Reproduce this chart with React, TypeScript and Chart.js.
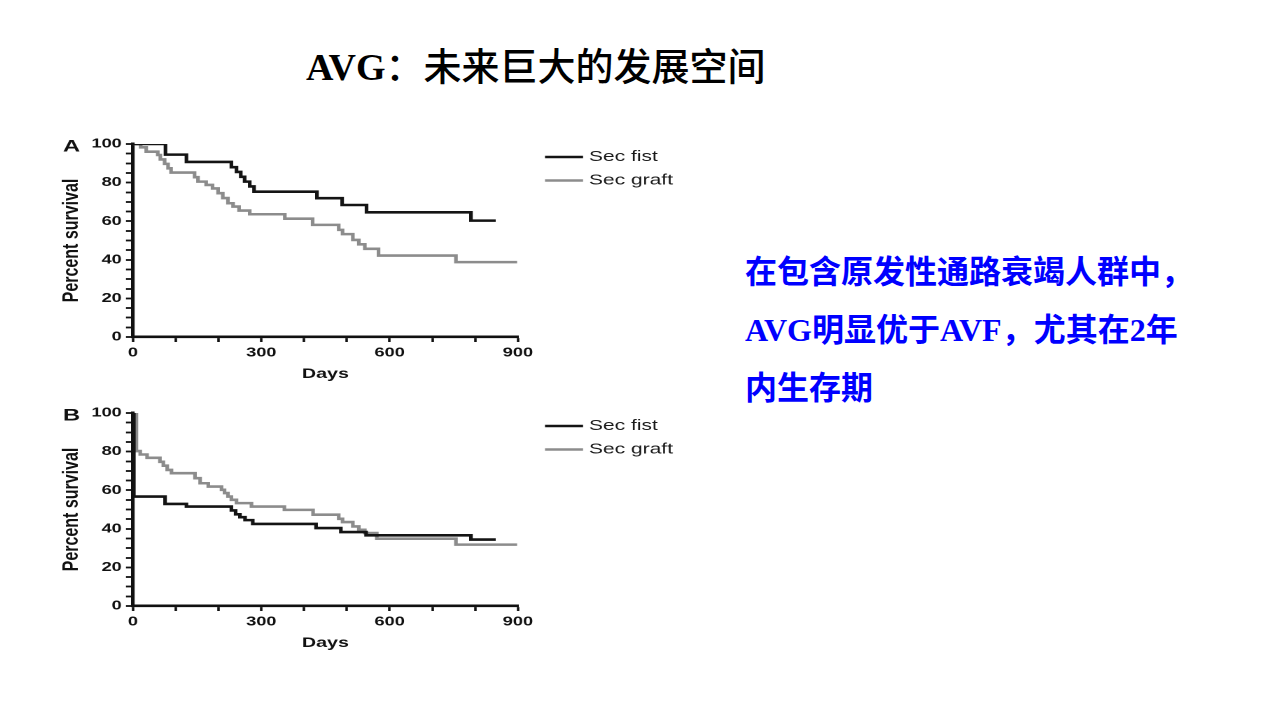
import React, { useEffect, useRef } from "react";
import { Chart, registerables } from "chart.js";

Chart.register(...registerables);

// ---------- data ----------
const seriesNames = ["Sec fist", "Sec graft"];
const xTickLabels = [0, 300, 600, 900];
const yTickLabels = [0, 20, 40, 60, 80, 100];

const aFistDays = [0, 76, 125, 230, 242, 252, 261, 273, 283, 430, 489, 546, 790, 848];
const aFistPct = [100, 94.5, 90.7, 88, 85.5, 83, 80.5, 78, 75.3, 71.9, 68.4, 64.6, 60.3, 60.3];

const aGraftDays = [0, 18, 31, 58, 64, 74, 82, 89, 144, 152, 171, 186, 199, 210, 222, 234, 248, 273, 355, 420, 481, 490, 514, 528, 542, 574, 755, 898];
const aGraftPct = [100, 98.3, 96, 94.3, 92, 89.7, 87.4, 85.2, 82.8, 80.5, 78.8, 77, 74.5, 72, 69.3, 67.6, 65.5, 63.6, 61.3, 58.1, 55.5, 53.3, 50.3, 48, 45.7, 42.2, 38.8, 38.8];

const bFistDays = [0, 2, 75, 125, 230, 240, 250, 262, 280, 428, 486, 545, 790, 848];
const bFistPct = [100, 56.7, 52.9, 51.5, 49.5, 47.5, 46, 44.5, 42.5, 40.4, 38.3, 36.6, 34.4, 34.4];

const bGraftDays = [0, 8, 17, 33, 63, 71, 80, 90, 145, 157, 176, 207, 214, 222, 230, 242, 277, 354, 421, 481, 490, 514, 528, 542, 570, 755, 898];
const bGraftPct = [100, 80.3, 78.5, 76.8, 74.7, 72.7, 70.5, 68.8, 66.2, 63.6, 61.9, 60.2, 58.5, 56.7, 55, 53.3, 51.5, 49.8, 47.3, 45.2, 43.5, 41.2, 39.5, 37.8, 34.9, 31.8, 31.8];

// ---------- style ----------
const SANS = "'Liberation Sans', Arial, Helvetica, sans-serif";
const FIST_COLOR = "#141414";
const GRAFT_COLOR = "#8c8c8c";
const AXIS_COLOR = "#111111";
const LOGICAL_W = 480;
const CSS_W = 672;
const CANVAS_H = 270;
const LINE_W = 2.6;

type PanelProps = {
  label: string;
  fistDays: number[];
  fistPct: number[];
  graftDays: number[];
  graftPct: number[];
  top: number;
};

function KMPanel({ label, fistDays, fistPct, graftDays, graftPct, top }: PanelProps) {
  const ref = useRef<HTMLCanvasElement>(null);

  useEffect(() => {
    const canvas = ref.current;
    if (!canvas) return;

    const decor = {
      id: "panelDecor",
      afterDraw(chart: any) {
        const { ctx, chartArea } = chart;
        ctx.save();
        ctx.fillStyle = AXIS_COLOR;
        ctx.textAlign = "left";
        ctx.textBaseline = "middle";
        ctx.font = `bold 17px ${SANS}`;
        ctx.fillText(label, 16.4, chartArea.top + 3);
        ctx.font = `15px ${SANS}`;
        chart.data.datasets.forEach((ds: any, i: number) => {
          const y = chartArea.top + 13 + i * 23.5;
          ctx.strokeStyle = ds.borderColor;
          ctx.lineWidth = 2.4;
          ctx.beginPath();
          ctx.moveTo(chartArea.right + 19.3, y);
          ctx.lineTo(chartArea.right + 46.5, y);
          ctx.stroke();
          ctx.fillStyle = "#1a1a1a";
          ctx.fillText(ds.label, chartArea.right + 50.7, y);
        });
        ctx.restore();
      },
    };

    const axisCommon = {
      border: { display: true, color: AXIS_COLOR, width: 2.6 },
      grid: {
        display: true,
        drawOnChartArea: false,
        drawTicks: true,
        tickLength: 5,
        tickWidth: 1.8,
        tickColor: AXIS_COLOR,
      },
    };

    const chart = new Chart(canvas, {
      type: "line",
      data: {
        datasets: [
          {
            label: seriesNames[0],
            data: fistDays.map((d, i) => ({ x: d, y: fistPct[i] })),
            borderColor: FIST_COLOR,
            backgroundColor: FIST_COLOR,
            borderWidth: LINE_W,
            stepped: true,
            pointRadius: 0,
            fill: false,
          },
          {
            label: seriesNames[1],
            data: graftDays.map((d, i) => ({ x: d, y: graftPct[i] })),
            borderColor: GRAFT_COLOR,
            backgroundColor: GRAFT_COLOR,
            borderWidth: LINE_W,
            stepped: true,
            pointRadius: 0,
            fill: false,
          },
        ],
      },
      options: {
        responsive: false,
        animation: false,
        devicePixelRatio: 2,
        layout: { padding: { left: 13, top: 19, right: 138.6, bottom: 12.6 } },
        plugins: {
          legend: { display: false },
          tooltip: { enabled: false },
          title: { display: false },
        },
        scales: {
          x: {
            type: "linear",
            min: 0,
            max: 900,
            ...axisCommon,
            ticks: {
              stepSize: 100,
              autoSkip: false,
              maxRotation: 0,
              padding: 3,
              color: AXIS_COLOR,
              font: { family: SANS, size: 13, weight: "bold" },
              callback: (v: any) => (xTickLabels.includes(Number(v)) ? String(v) : ""),
            },
            title: {
              display: true,
              text: "Days",
              color: AXIS_COLOR,
              padding: 0,
              font: { family: SANS, size: 14, weight: "bold" },
            },
            afterFit: (s: any) => {
              s.height = 45.4;
            },
          },
          y: {
            type: "linear",
            min: 0,
            max: 100,
            ...axisCommon,
            ticks: {
              stepSize: 5,
              autoSkip: false,
              padding: 3,
              color: AXIS_COLOR,
              font: { family: SANS, size: 13, weight: "bold" },
              callback: (v: any) => (yTickLabels.includes(Number(v)) ? String(v) : ""),
            },
            title: {
              display: true,
              text: "Percent survival",
              color: AXIS_COLOR,
              padding: 0,
              font: { family: SANS, size: 16, weight: "bold" },
            },
            afterFit: (s: any) => {
              s.width = 53.4;
            },
          },
        },
      } as any,
      plugins: [decor],
    });

    return () => chart.destroy();
  }, [label, fistDays, fistPct, graftDays, graftPct]);

  return (
    <canvas
      ref={ref}
      width={LOGICAL_W}
      height={CANVAS_H}
      style={{
        position: "absolute",
        left: 40,
        top,
        width: `${CSS_W}px`,
        height: `${CANVAS_H}px`,
      }}
    />
  );
}

export default function App() {
  const mixedFont = "'Liberation Serif', 'Times New Roman', 'Noto Sans CJK SC', serif";
  return (
    <div
      style={{
        position: "absolute",
        left: 0,
        top: 0,
        width: 1277,
        height: 720,
        background: "#ffffff",
        overflow: "hidden",
      }}
    >
      <div
        style={{
          position: "absolute",
          left: 306,
          top: 45,
          fontFamily: mixedFont,
          fontSize: 38,
          lineHeight: "45px",
          whiteSpace: "nowrap",
          color: "#000",
        }}
      >
        <span style={{ fontWeight: "bold" }}>AVG</span>
        <span style={{ fontWeight: 500 }}>：未来巨大的发展空间</span>
      </div>

      <KMPanel
        label="A"
        fistDays={aFistDays}
        fistPct={aFistPct}
        graftDays={aGraftDays}
        graftPct={aGraftPct}
        top={125}
      />
      <KMPanel
        label="B"
        fistDays={bFistDays}
        fistPct={bFistPct}
        graftDays={bGraftDays}
        graftPct={bGraftPct}
        top={394}
      />

      <div
        style={{
          position: "absolute",
          left: 745,
          top: 243,
          fontFamily: mixedFont,
          fontSize: 32,
          fontWeight: "bold",
          lineHeight: "58px",
          whiteSpace: "nowrap",
          color: "#0000ff",
        }}
      >
        在包含原发性通路衰竭人群中，
        <br />
        AVG明显优于AVF，尤其在2年
        <br />
        内生存期
      </div>
    </div>
  );
}
